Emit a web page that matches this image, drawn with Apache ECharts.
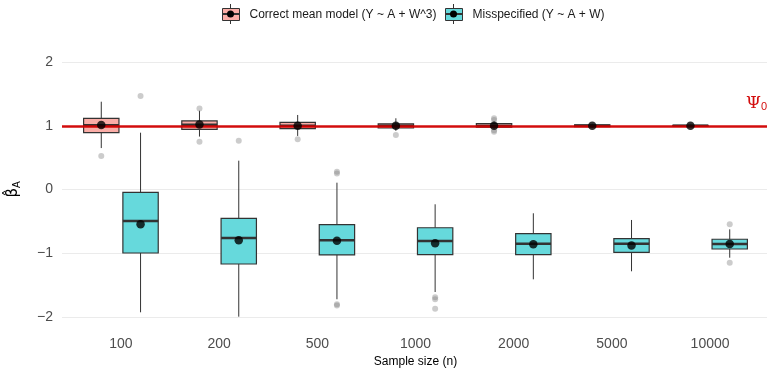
<!DOCTYPE html>
<html>
<head>
<meta charset="utf-8">
<script src="https://cdn.jsdelivr.net/npm/echarts@6/dist/echarts.min.js"></script>
<style>
  html, body { margin: 0; padding: 0; background: #fff; }
  #chart { width: 767px; height: 369px; }
</style>
</head>
<body>
<div id="chart"></div>
<script>
// sample sizes on the x axis
const sampleSizes = ['100', '200', '500', '1000', '2000', '5000', '10000'];

// boxplot stats: [lower whisker, Q1, median, Q3, upper whisker]
const correctBox = [
  [0.65, 0.891, 1.007, 1.117, 1.377],
  [0.83, 0.944, 1.017, 1.075, 1.236],
  [0.84, 0.954, 1.0, 1.054, 1.169],
  [0.92, 0.965, 1.0, 1.03, 1.117],
  [0.95, 0.977, 1.0, 1.035, 1.07],
  [0.97, 0.986, 1.0, 1.014, 1.03],
  [0.985, 0.993, 1.0, 1.007, 1.015]
];
const correctMean = [1.01, 1.02, 1.0, 1.0, 1.0, 1.0, 1.0];
// outliers: [sample size index, value]
const correctOutliers = [
  [0, 0.524], [1, 1.27], [1, 0.75], [2, 0.787], [3, 0.855],
  [4, 1.117], [4, 1.09], [4, 0.93], [4, 0.907]
];

const misBox = [
  [-1.926, -0.996, -0.494, -0.044, 0.891],
  [-1.995, -1.169, -0.761, -0.452, 0.452],
  [-1.722, -1.027, -0.797, -0.552, 0.107],
  [-1.608, -1.022, -0.808, -0.6, -0.232],
  [-1.409, -1.022, -0.85, -0.693, -0.373],
  [-1.283, -0.986, -0.85, -0.77, -0.478],
  [-1.07, -0.933, -0.855, -0.78, -0.625]
];
const misMean = [-0.546, -0.797, -0.803, -0.845, -0.86, -0.88, -0.855];
const misOutliers = [
  [0, 1.467], [1, 0.765], [2, 0.28], [2, 0.25], [2, -1.80], [2, -1.82],
  [3, -1.69], [3, -1.72], [3, -1.87], [6, -0.546], [6, -1.148]
];

const yTicks = [-2, -1, 0, 1, 2];
const truth = 1;

const names = ['Correct mean model (Y ~ A + W^3)', 'Misspecified (Y ~ A + W)'];
const fills = ['#FBADA7', '#66D9DC'];
const dodge = 0.2;
const boxWidth = 0.36;

function boxData(stats, shift) {
  return stats.map((s, i) => [i + 1 + shift].concat(s));
}
function pointData(vals, shift) {
  return vals.map((v, i) => [i + 1 + shift, v]);
}
function outlierData(list, shift) {
  return list.map(o => [o[0] + 1 + shift, o[1]]);
}

function renderBox(params, api) {
  const x = api.value(0);
  const lo = api.coord([x, api.value(1)]);
  const q1 = api.coord([x, api.value(2)]);
  const md = api.coord([x, api.value(3)]);
  const q3 = api.coord([x, api.value(4)]);
  const hi = api.coord([x, api.value(5)]);
  const half = api.size([boxWidth, 0])[0] / 2;
  const fill = api.visual('color');
  return {
    type: 'group',
    children: [
      { type: 'line', shape: { x1: lo[0], y1: lo[1], x2: q1[0], y2: q1[1] }, style: { stroke: '#333', lineWidth: 1 } },
      { type: 'line', shape: { x1: q3[0], y1: q3[1], x2: hi[0], y2: hi[1] }, style: { stroke: '#333', lineWidth: 1 } },
      { type: 'rect', shape: { x: q3[0] - half, y: q3[1], width: half * 2, height: q1[1] - q3[1] }, style: { fill: fill, stroke: '#333', lineWidth: 1.2 } },
      { type: 'line', shape: { x1: md[0] - half, y1: md[1], x2: md[0] + half, y2: md[1] }, style: { stroke: '#333', lineWidth: 2.5 } }
    ]
  };
}

const chart = echarts.init(document.getElementById('chart'));
const font = 'Liberation Sans, Arial, sans-serif';

const option = {
  backgroundColor: '#fff',
  animation: false,
  textStyle: { fontFamily: font },
  legend: [0, 1].map(k => ({
    left: k === 0 ? 222 : 445,
    top: 8,
    padding: 0,
    itemWidth: 17,
    itemHeight: 12,
    selectedMode: false,
    textStyle: { fontSize: 12, color: '#1a1a1a', padding: [0, 0, 0, 5] },
    data: [{ name: names[k], icon: 'rect', itemStyle: { color: fills[k], borderColor: '#333', borderWidth: 1 } }]
  })),
  // legend key decoration: whiskers and mean dot
  graphic: [230.5, 453.5].map(cx => ({
    type: 'group',
    z: 100,
    children: [
      { type: 'line', z: 100, shape: { x1: cx, y1: 4, x2: cx, y2: 8 }, style: { stroke: '#333', lineWidth: 1 } },
      { type: 'line', z: 100, shape: { x1: cx, y1: 20, x2: cx, y2: 24 }, style: { stroke: '#333', lineWidth: 1 } },
      { type: 'line', z: 100, shape: { x1: cx - 8.5, y1: 14, x2: cx + 8.5, y2: 14 }, style: { stroke: '#333', lineWidth: 2 } },
      { type: 'circle', z: 101, shape: { cx: cx, cy: 14, r: 3.5 }, style: { fill: '#000' } }
    ]
  })),
  grid: { left: 62, top: 62, width: 707, height: 255, outerBoundsMode: 'none', containLabel: false },
  xAxis: {
    type: 'value',
    min: 0.4,
    max: 7.6,
    name: 'Sample size (n)',
    nameLocation: 'middle',
    nameGap: 39,
    nameTextStyle: { fontSize: 12, color: '#000' },
    axisLine: { show: false },
    axisTick: { show: false },
    splitLine: { show: false },
    axisLabel: {
      customValues: sampleSizes.map((s, i) => i + 1),
      formatter: v => sampleSizes[Math.round(v) - 1],
      fontSize: 14,
      color: '#4D4D4D',
      margin: 20
    }
  },
  yAxis: {
    type: 'value',
    min: yTicks[0],
    max: yTicks[yTicks.length - 1],
    interval: 1,
    name: '{b|β\u0302}{s|A}',
    nameLocation: 'middle',
    nameRotate: 90,
    nameGap: 40,
    nameTextStyle: {
      rich: {
        b: { fontSize: 15, color: '#000', fontFamily: 'DejaVu Sans, sans-serif' },
        s: { fontSize: 10, color: '#000', fontFamily: font, padding: [7, 0, 0, 0] }
      }
    },
    axisLine: { show: false },
    axisTick: { show: false },
    splitLine: { lineStyle: { color: '#EBEBEB', width: 1 } },
    axisLabel: {
      fontSize: 14,
      color: '#4D4D4D',
      margin: 9,
      formatter: v => (v < 0 ? '\u2212' + Math.abs(v) : String(v))
    }
  },
  series: [
    {
      name: names[0],
      type: 'custom',
      renderItem: renderBox,
      itemStyle: { color: fills[0] },
      encode: { x: 0, y: [1, 2, 3, 4, 5] },
      data: boxData(correctBox, -dodge),
      z: 2,
      markLine: {
        silent: true,
        symbol: 'none',
        z: 4,
        lineStyle: { color: '#D10000', width: 2.6, type: 'solid', opacity: 0.95 },
        label: {
          position: 'insideEndTop',
          distance: [2, 13],
          formatter: '{p|Ψ}{s|0}',
          rich: {
            p: { fontSize: 17, color: '#D10000', fontFamily: 'DejaVu Serif, serif' },
            s: { fontSize: 11, color: '#D10000', fontFamily: font, padding: [8, 0, 0, 0] }
          }
        },
        data: [{ yAxis: truth }]
      }
    },
    {
      name: names[1],
      type: 'custom',
      renderItem: renderBox,
      itemStyle: { color: fills[1] },
      encode: { x: 0, y: [1, 2, 3, 4, 5] },
      data: boxData(misBox, dodge),
      z: 2
    },
    {
      type: 'scatter',
      data: outlierData(correctOutliers, -dodge).concat(outlierData(misOutliers, dodge)),
      symbolSize: 6,
      itemStyle: { color: 'rgba(128,128,128,0.5)' },
      z: 3,
      silent: true
    },
    {
      type: 'scatter',
      data: pointData(correctMean, -dodge).concat(pointData(misMean, dodge)),
      symbolSize: 8.5,
      itemStyle: { color: '#000' },
      z: 6,
      silent: true
    }
  ]
};

chart.setOption(option);
</script>
</body>
</html>
